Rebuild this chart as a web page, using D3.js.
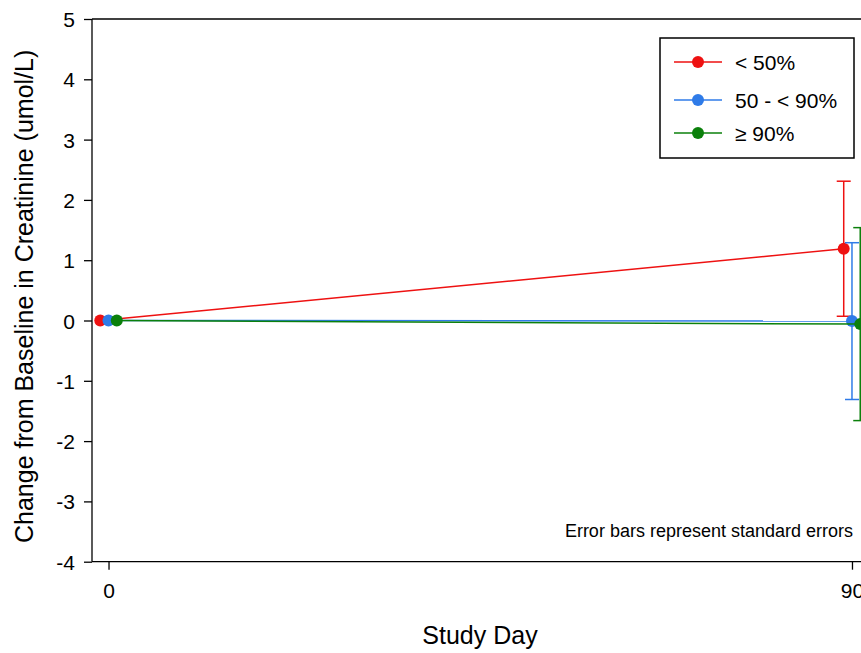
<!DOCTYPE html>
<html>
<head>
<meta charset="utf-8">
<script src="https://cdn.jsdelivr.net/npm/d3@7"></script>
<style>
  body { margin: 0; background: #fff; overflow: hidden; }
  svg { display: block; }
  svg text { font-family: Arial, "Liberation Sans", sans-serif; fill: #000; }
</style>
</head>
<body>
<div id="chart"></div>
<script>
// data
const groups = ["< 50%", "50 - < 90%", "\u2265 90%"];
const colors = ["#ee1111", "#2f7be8", "#0b800b"];
const studyDays = [0, 90];
const meanLt50 = [0, 1.19];
const meanMid = [0, -0.01];
const meanGe90 = [0, -0.06];
const seLt50 = [0, 1.12];
const seMid = [0, 1.30];
const seGe90 = [0, 1.60];
const yTicks = [-4, -3, -2, -1, 0, 1, 2, 3, 4, 5];
const xTicks = [0, 90];
const note = "Error bars represent standard errors";

const means = [meanLt50, meanMid, meanGe90];
const ses = [seLt50, seMid, seGe90];
const dodge = [-1, 0, 1];

const width = 861, height = 653;
const margin = {left: 92, top: 19, bottom: 91};

const svg = d3.select('#chart').append('svg')
    .attr('width', width)
    .attr('height', height);

const x = d3.scaleLinear().domain([-2, 92]).range([margin.left, 868.5]);
const y = d3.scaleLinear().domain([-4, 5]).range([height - margin.bottom - 0.3, margin.top]);

// frame: top line
svg.append('line')
    .attr('x1', margin.left).attr('x2', width)
    .attr('y1', y(5)).attr('y2', y(5))
    .attr('stroke', '#000').attr('stroke-width', 1.3);

const yAxis = svg.append('g')
    .attr('transform', `translate(${margin.left},0)`)
    .call(d3.axisLeft(y).tickValues(yTicks).tickSize(8).tickPadding(9).tickFormat(d => String(d)));
yAxis.attr('font-family', null).attr('font-size', null);
yAxis.select('.domain').attr('d', `M0,${y(5)}V${y(-4)}`).attr('stroke-width', 1.3);
yAxis.selectAll('.tick line').attr('stroke-width', 1.3);
yAxis.selectAll('.tick text').style('font-size', '21px').attr('dy', '0.36em');

const xAxis = svg.append('g')
    .attr('transform', `translate(0,${y(-4)})`)
    .call(d3.axisBottom(x).tickValues(xTicks).tickSize(8).tickPadding(13));
xAxis.attr('font-family', null).attr('font-size', null);
xAxis.select('.domain').attr('d', `M${margin.left},0H${width}`).attr('stroke-width', 1.3);
xAxis.selectAll('.tick line').attr('stroke-width', 1.3);
xAxis.selectAll('.tick text').style('font-size', '21px');

// axis titles
svg.append('text')
    .attr('x', 480).attr('y', 644)
    .attr('text-anchor', 'middle')
    .style('font-size', '25px')
    .text('Study Day');

svg.append('text')
    .attr('transform', `translate(33,${y(0.4)}) rotate(-90)`)
    .attr('text-anchor', 'middle')
    .style('font-size', '25px')
    .text('Change from Baseline in Creatinine (umol/L)');

// series
const line = d3.line().x(d => x(d.day)).y(d => y(d.mean));
const capHalf = 7;

groups.forEach((g, i) => {
    const pts = studyDays.map((day, j) => ({day: day + dodge[i], mean: means[i][j], se: ses[i][j]}));
    const gs = svg.append('g');
    gs.append('path')
        .datum(pts)
        .attr('d', line)
        .attr('fill', 'none')
        .attr('stroke', colors[i])
        .attr('stroke-width', 1.5);

    const eb = gs.selectAll('g.eb')
        .data(pts.filter(p => p.se > 0))
        .enter().append('g')
        .attr('stroke', colors[i])
        .attr('stroke-width', 1.5);
    eb.append('line')
        .attr('x1', d => x(d.day)).attr('x2', d => x(d.day))
        .attr('y1', d => y(d.mean + d.se)).attr('y2', d => y(d.mean - d.se));
    eb.append('line')
        .attr('x1', d => x(d.day) - capHalf).attr('x2', d => x(d.day) + capHalf)
        .attr('y1', d => y(d.mean + d.se)).attr('y2', d => y(d.mean + d.se));
    eb.append('line')
        .attr('x1', d => x(d.day) - capHalf).attr('x2', d => x(d.day) + capHalf)
        .attr('y1', d => y(d.mean - d.se)).attr('y2', d => y(d.mean - d.se));

    gs.selectAll('circle')
        .data(pts)
        .enter().append('circle')
        .attr('cx', d => x(d.day))
        .attr('cy', d => y(d.mean))
        .attr('r', 6)
        .attr('fill', colors[i]);
});

// note
svg.append('text')
    .attr('x', 853).attr('y', 537)
    .attr('text-anchor', 'end')
    .style('font-size', '18px')
    .text(note);

// legend
const lg = svg.append('g').attr('transform', 'translate(660,38)');
lg.append('rect')
    .attr('width', 194).attr('height', 120)
    .attr('fill', '#fff').attr('stroke', '#000').attr('stroke-width', 1.5);
const rowY = [24, 62, 95];
groups.forEach((g, i) => {
    const ly = rowY[i];
    lg.append('line')
        .attr('x1', 14).attr('x2', 62)
        .attr('y1', ly).attr('y2', ly)
        .attr('stroke', colors[i]).attr('stroke-width', 1.5);
    lg.append('circle')
        .attr('cx', 38).attr('cy', ly).attr('r', 6)
        .attr('fill', colors[i]);
    lg.append('text')
        .attr('x', 75).attr('y', ly).attr('dy', '0.36em')
        .style('font-size', '21px')
        .text(g);
});
</script>
</body>
</html>
